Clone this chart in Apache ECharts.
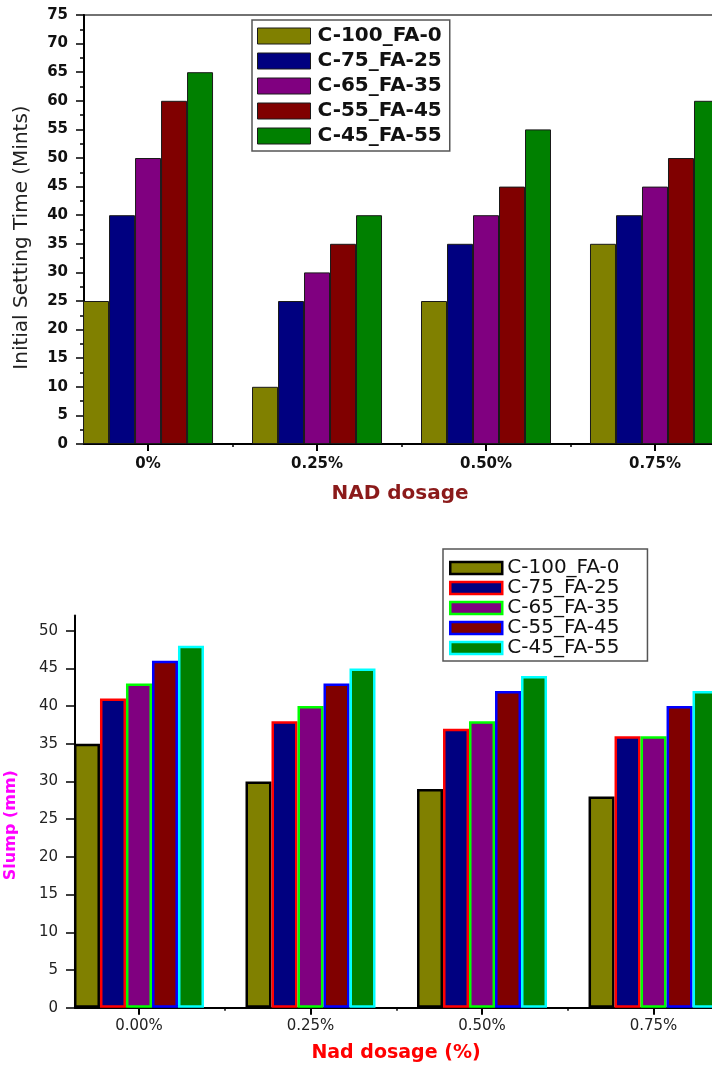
<!DOCTYPE html>
<html><head><meta charset="utf-8">
<script src="https://cdn.jsdelivr.net/npm/echarts@6/dist/echarts.min.js"></script>
<style>
html,body{margin:0;padding:0;background:#fff;overflow:hidden;width:712px;height:1065px}
#top{position:absolute;left:0;top:0;width:712px;height:530px}
#bottom{position:absolute;left:0;top:530px;width:712px;height:535px}
</style>
</head><body><div id="top"></div><div id="bottom"></div>
<script>
// ---------- data ----------
const seriesNames = ['C-100_FA-0', 'C-75_FA-25', 'C-65_FA-35', 'C-55_FA-45', 'C-45_FA-55'];

// Top chart: Initial setting time (min)
const settingCategories = ['0%', '0.25%', '0.50%', '0.75%'];
const setC100FA0 = [25, 10, 25, 35];
const setC75FA25 = [40, 25, 35, 40];
const setC65FA35 = [50, 30, 40, 45];
const setC55FA45 = [60, 35, 45, 50];
const setC45FA55 = [65, 40, 55, 60];

// Bottom chart: Slump (mm)
const slumpCategories = ['0.00%', '0.25%', '0.50%', '0.75%'];
const slumpC100FA0 = [35, 30, 29, 28];
const slumpC75FA25 = [41, 38, 37, 36];
const slumpC65FA35 = [43, 40, 38, 36];
const slumpC55FA45 = [46, 43, 42, 40];
const slumpC45FA55 = [48, 45, 44, 42];

const slumpYTicks = [0, 5, 10, 15, 20, 25, 30, 35, 40, 45, 50];
const slumpYMinorTicks = [2.5, 7.5, 12.5, 17.5, 22.5, 27.5, 32.5, 37.5, 42.5, 47.5];
const categoryPositions = [1, 2, 3, 4];
const boundaryPositions = [1.5, 2.5, 3.5];

// ---------- styles ----------
const FONT = 'DejaVu Sans';
const fills = ['#808000', '#000080', '#800080', '#800000', '#008000'];
const slumpBorders = ['#000000', '#ff0000', '#00ff00', '#0000ff', '#00ffff'];

const settingSets = [setC100FA0, setC75FA25, setC65FA35, setC55FA45, setC45FA55];
const slumpSets = [slumpC100FA0, slumpC75FA25, slumpC65FA35, slumpC55FA45, slumpC45FA55];

function toPoints(vals) { return vals.map((v, i) => [categoryPositions[i], v]); }

// ---------- top chart ----------
const topChart = echarts.init(document.getElementById('top'));
topChart.setOption({
  animation: false,
  grid: [{
    left: 84, top: 15, right: -4, bottom: 86,
    show: true, borderColor: '#444', borderWidth: 1.5, backgroundColor: 'transparent',
    containLabel: false, outerBoundsMode: 'none'
  }],
  legend: {
    orient: 'vertical', left: 252, top: 20,
    itemWidth: 53, itemHeight: 16, itemGap: 5,
    padding: [6, 8, 5, 5],
    borderColor: '#555', borderWidth: 1.5,
    selectedMode: false,
    itemStyle: { borderWidth: 1 },
    textStyle: { fontFamily: FONT, fontWeight: 'bold', fontSize: 20, color: '#111', padding: [0, 0, 0, 2] },
    data: seriesNames.map(n => ({ name: n, icon: 'rect' }))
  },
  xAxis: [{
    type: 'value', gridIndex: 0, position: 'bottom', min: 0.621, max: 4.361,
    axisLine: { show: true, onZero: false, lineStyle: { color: '#000', width: 2 } },
    splitLine: { show: false },
    axisTick: { show: true, customValues: categoryPositions, length: 7, lineStyle: { color: '#000', width: 2 } },
    axisLabel: {
      customValues: categoryPositions, formatter: v => settingCategories[Math.round(v) - 1],
      margin: 13, fontFamily: FONT, fontWeight: 'bold', fontSize: 15, color: '#111'
    },
    name: 'NAD dosage', nameLocation: 'middle', nameGap: 40,
    nameTextStyle: { fontFamily: FONT, fontWeight: 'bold', fontSize: 20, color: '#8b1a1a' }
  }, {
    type: 'value', gridIndex: 0, position: 'bottom', min: 0.621, max: 4.361,
    axisLine: { show: false, onZero: false },
    splitLine: { show: false },
    axisTick: { show: true, customValues: boundaryPositions, length: 3, lineStyle: { color: '#000', width: 1.5 } },
    axisLabel: { show: false }
  }],
  yAxis: [{
    type: 'value', gridIndex: 0, min: 0, max: 75, interval: 5,
    axisLine: { show: true, lineStyle: { color: '#000', width: 2 } },
    axisTick: { show: true, length: 8, lineStyle: { color: '#000', width: 1.5 } },
    minorTick: { show: true, splitNumber: 2, length: 4, lineStyle: { color: '#000', width: 1.5 } },
    splitLine: { show: false }, minorSplitLine: { show: false },
    axisLabel: { margin: 16, fontFamily: FONT, fontWeight: 'bold', fontSize: 15, color: '#111' },
    name: 'Initial Setting Time (Mints)', nameLocation: 'middle', nameGap: 52,
    nameTextStyle: { fontFamily: FONT, fontSize: 20, color: '#222', padding: [0, 16, 0, 0] }
  }],
  series: seriesNames.map((n, k) => ({
    type: 'bar', name: n, xAxisIndex: 0, yAxisIndex: 0,
    barWidth: 26, barGap: '0%',
    data: toPoints(settingSets[k]),
    itemStyle: { color: fills[k], borderColor: '#1a1a1a', borderWidth: 1 },
    emphasis: { disabled: true }
  }))
});

// ---------- bottom chart ----------
const botChart = echarts.init(document.getElementById('bottom'));
botChart.setOption({
  animation: false,
  grid: [{
    left: 75, top: 85.6, right: -5, bottom: 57.3,
    show: false, containLabel: false, outerBoundsMode: 'none'
  }],
  legend: {
    orient: 'vertical', left: 443, top: 19,
    itemWidth: 52, itemHeight: 12, itemGap: 0,
    padding: [9, 28, 3, 6],
    borderColor: '#555', borderWidth: 1.5,
    selectedMode: false,
    itemStyle: { borderWidth: 2.5 },
    textStyle: { fontFamily: FONT, fontSize: 20, color: '#111' },
    data: seriesNames.map(n => ({ name: n, icon: 'rect' }))
  },
  xAxis: [{
    type: 'value', gridIndex: 0, position: 'bottom', min: 0.627, max: 4.370,
    axisLine: { show: true, onZero: false, lineStyle: { color: '#000', width: 2 } },
    splitLine: { show: false },
    axisTick: { show: true, customValues: categoryPositions, length: 7, lineStyle: { color: '#000', width: 2 } },
    axisLabel: {
      customValues: categoryPositions, formatter: v => slumpCategories[Math.round(v) - 1],
      margin: 11, fontFamily: FONT, fontSize: 15, color: '#222'
    },
    name: 'Nad dosage (%)', nameLocation: 'middle', nameGap: 36,
    nameTextStyle: { fontFamily: FONT, fontWeight: 'bold', fontSize: 19, color: '#ff0000' }
  }, {
    type: 'value', gridIndex: 0, position: 'bottom', min: 0.627, max: 4.370,
    axisLine: { show: false, onZero: false },
    splitLine: { show: false },
    axisTick: { show: true, customValues: boundaryPositions, length: 3, lineStyle: { color: '#000', width: 1.5 } },
    axisLabel: { show: false }
  }],
  yAxis: [{
    type: 'value', gridIndex: 0, min: 0, max: 52,
    axisLine: { show: true, lineStyle: { color: '#000', width: 2 } },
    axisTick: { show: true, customValues: slumpYTicks, length: 9, lineStyle: { color: '#000', width: 1.5 } },
    splitLine: { show: false },
    axisLabel: { customValues: slumpYTicks, margin: 17, fontFamily: FONT, fontSize: 15, color: '#222' },
    name: 'Slump (mm)', nameLocation: 'middle', nameGap: 56,
    nameTextStyle: { fontFamily: FONT, fontWeight: 'bold', fontSize: 16, color: '#ff00ff', padding: [0, 27, 0, 0] }
  }, {
    type: 'value', gridIndex: 0, min: 0, max: 52,
    axisLine: { show: false },
    axisTick: { show: true, customValues: slumpYMinorTicks, length: 4, lineStyle: { color: '#000', width: 1.5 } },
    splitLine: { show: false },
    axisLabel: { show: false }
  }],
  series: seriesNames.map((n, k) => ({
    type: 'bar', name: n, xAxisIndex: 0, yAxisIndex: 0,
    barWidth: 26, barGap: '0%',
    data: toPoints(slumpSets[k]),
    itemStyle: { color: fills[k], borderColor: slumpBorders[k], borderWidth: 2.5 },
    emphasis: { disabled: true }
  }))
});
</script>
</body></html>
